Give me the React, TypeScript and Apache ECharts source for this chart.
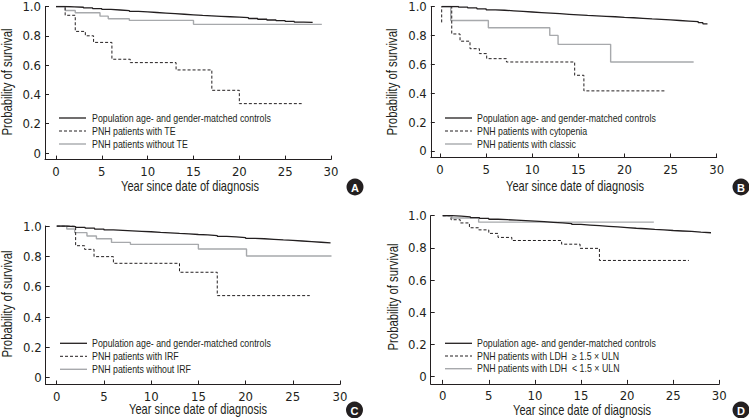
import React, { useEffect, useRef } from 'react';
import * as echarts from 'echarts';

type Pt = [number, number];

// ---------- data ----------
const xTicks = [0, 5, 10, 15, 20, 25, 30];
const yTicks = [0, 0.2, 0.4, 0.6, 0.8, 1.0];
const panelLetters = ['A', 'B', 'C', 'D'];
const xTitle = 'Year since date of diagnosis';
const yTitle = 'Probability of survival';
const controlLabel = 'Population age- and gender-matched controls';

const namesA = [controlLabel, 'PNH patients with TE', 'PNH patients without TE'];
const namesB = [controlLabel, 'PNH patients with cytopenia', 'PNH patients with classic'];
const namesC = [controlLabel, 'PNH patients with IRF', 'PNH patients without IRF'];
const namesD = [controlLabel, 'PNH patients with LDH  \u2265 1.5 \u00d7 ULN', 'PNH patients with LDH  < 1.5 \u00d7 ULN'];

const aControls: Pt[] = [
  [0, 1], [1, 0.998], [2, 0.995], [3, 0.99], [4, 0.985], [5, 0.98], [6, 0.976], [7, 0.972],
  [8, 0.967], [9, 0.963], [10, 0.959], [11, 0.955], [12, 0.951], [13, 0.947], [14, 0.943],
  [15, 0.939], [16, 0.936], [17, 0.933], [18, 0.93], [19, 0.927], [20, 0.924], [21, 0.918],
  [22, 0.913], [23, 0.908], [24, 0.903], [25, 0.898], [26, 0.893], [27, 0.891], [28, 0.889],
];
const aWithTE: Pt[] = [
  [0, 1], [1, 0.94], [2.1, 0.83], [3.2, 0.8], [4.1, 0.755], [6.1, 0.64], [8.1, 0.617],
  [13.1, 0.567], [17, 0.428], [20, 0.337], [26.8, 0.337],
];
const aWithoutTE: Pt[] = [
  [0, 1], [1, 0.973], [2.1, 0.957], [4.8, 0.934], [5.7, 0.916], [8, 0.905], [15, 0.878], [29, 0.878],
];

const bControls: Pt[] = [
  [0.2, 1], [1, 1], [2, 0.995], [3, 0.99], [4, 0.984], [5, 0.977], [6, 0.974], [7, 0.97],
  [8, 0.966], [9, 0.962], [10, 0.958], [11, 0.954], [12, 0.95], [13, 0.946], [14, 0.942],
  [15, 0.938], [16, 0.935], [17, 0.932], [18, 0.929], [19, 0.925], [20, 0.922], [21, 0.918],
  [22, 0.914], [23, 0.911], [24, 0.907], [25, 0.903], [26, 0.899], [27, 0.895], [28, 0.888],
  [28.5, 0.88], [29, 0.88],
];
const bCytopenia: Pt[] = [
  [0.18, 0.89], [0.18, 1], [1.27, 0.81], [2.17, 0.76], [3.25, 0.708], [4.27, 0.674],
  [5.06, 0.639], [7.2, 0.616], [14.6, 0.524], [15.6, 0.416], [24.5, 0.416],
];
const bClassic: Pt[] = [
  [0.2, 1], [1.16, 0.903], [5.24, 0.853], [11.9, 0.8], [12.8, 0.738], [18.5, 0.616], [27.5, 0.616],
];

const cControls: Pt[] = [
  [0, 1], [1, 0.996], [2, 0.991], [3, 0.986], [4, 0.98], [5, 0.974], [6, 0.971], [7, 0.968],
  [8, 0.965], [9, 0.962], [10, 0.958], [11, 0.955], [12, 0.951], [13, 0.948], [14, 0.944],
  [15, 0.941], [16, 0.937], [17, 0.932], [18, 0.928], [19, 0.924], [20, 0.919], [21, 0.916],
  [22, 0.912], [23, 0.908], [24, 0.905], [25, 0.901], [26, 0.897], [27, 0.893], [28, 0.889],
  [29, 0.886],
];
const cIRF: Pt[] = [
  [0, 1], [2, 0.87], [2.95, 0.846], [3.95, 0.798], [6, 0.754], [13, 0.695], [17, 0.541], [26.8, 0.541],
];
const cWithoutIRF: Pt[] = [
  [0, 1], [1.06, 0.98], [1.9, 0.956], [3.2, 0.934], [4.2, 0.916], [5.8, 0.892], [7.8, 0.879],
  [15, 0.848], [20.1, 0.802], [29.1, 0.802],
];

const dControls: Pt[] = [
  [0, 1], [1, 0.997], [2, 0.993], [3, 0.988], [4, 0.983], [5, 0.978], [6, 0.975], [7, 0.972],
  [8, 0.969], [9, 0.966], [10, 0.963], [11, 0.959], [12, 0.955], [13, 0.951], [14, 0.946],
  [15, 0.942], [16, 0.938], [17, 0.934], [18, 0.93], [19, 0.926], [20, 0.922], [21, 0.919],
  [22, 0.915], [23, 0.912], [24, 0.908], [25, 0.905], [26, 0.902], [27, 0.898], [28, 0.894],
  [29.1, 0.891],
];
const dHighLDH: Pt[] = [
  [0, 1], [0.9, 0.975], [1.9, 0.955], [2.9, 0.925], [3.9, 0.912], [5, 0.89], [6, 0.865],
  [7.5, 0.846], [12.9, 0.823], [14.9, 0.797], [17, 0.722], [26.7, 0.722],
];
const dLowLDH: Pt[] = [[0, 1], [1, 0.986], [3.9, 0.96], [22.9, 0.96]];

const panelSeries: Pt[][][] = [
  [aControls, aWithTE, aWithoutTE],
  [bControls, bCytopenia, bClassic],
  [cControls, cIRF, cWithoutIRF],
  [dControls, dHighLDH, dLowLDH],
];
const panelNames = [namesA, namesB, namesC, namesD];

// ---------- layout & style ----------
const TICK_FONT = '"DejaVu Sans Condensed", "Liberation Sans", sans-serif';
const TEXT_FONT = '"Liberation Sans", Arial, sans-serif';
const INK = '#231f20';
const GRAY = '#a7a9ac';
const Y_MIN = -0.045;

const layouts = [
  { left: 45, top: 6, width: 286, height: 153.6, xMin: -1.2,
    legend: { x: 59, y: 118, tx: 92, gap: 13 }, yT: [7.5, 82], xT: [190, 187], circ: [355, 187] },
  { left: 430.8, top: 6, width: 285.9, height: 151.5, xMin: -1.0,
    legend: { x: 445, y: 118, tx: 477, gap: 13 }, yT: [392.5, 82], xT: [575, 187], circ: [741, 187] },
  { left: 45.7, top: 226, width: 294.3, height: 158.5, xMin: -1.17,
    legend: { x: 60, y: 343.3, tx: 92, gap: 13 }, yT: [7.5, 304], xT: [198, 410], circ: [354.5, 410] },
  { left: 430.7, top: 215.7, width: 288.6, height: 168.2, xMin: -1.3,
    legend: { x: 445, y: 343.3, tx: 477, gap: 12.7 }, yT: [393, 297], xT: [582, 411], circ: [741, 410] },
];

const lineStyles = [
  { color: INK, width: 1.3, type: 'solid' as any },
  { color: INK, width: 1, type: [3, 2] as any },
  { color: GRAY, width: 1.4, type: 'solid' as any },
];

function buildOption() {
  const grid: any[] = [];
  const xAxis: any[] = [];
  const yAxis: any[] = [];
  const series: any[] = [];
  const graphic: any[] = [];

  layouts.forEach((L, i) => {
    grid.push({ left: L.left, top: L.top, width: L.width, height: L.height, containLabel: false });
    xAxis.push({
      type: 'value', gridIndex: i, min: L.xMin, max: 30,
      axisLine: { show: true, onZero: false, lineStyle: { color: INK, width: 1 } },
      axisTick: { show: true, inside: true, length: 4, customValues: xTicks, lineStyle: { color: INK } },
      axisLabel: { show: true, customValues: xTicks, color: INK, fontSize: 13, fontFamily: TICK_FONT, margin: 5 },
      splitLine: { show: false },
    });
    yAxis.push({
      type: 'value', gridIndex: i, min: Y_MIN, max: 1,
      axisLine: { show: true, onZero: false, lineStyle: { color: INK, width: 1 } },
      axisTick: { show: true, inside: true, length: 4, customValues: yTicks, lineStyle: { color: INK } },
      axisLabel: {
        show: true, customValues: yTicks, color: INK, fontSize: 13, fontFamily: TICK_FONT, margin: 4,
        formatter: (v: number) => (v === 0 ? '0' : v.toFixed(1)),
      },
      splitLine: { show: false },
    });
    const order = [2, 1, 0];
    order.forEach((k) => {
      series.push({
        type: 'line', name: panelNames[i][k], xAxisIndex: i, yAxisIndex: i,
        step: 'end', symbol: 'none', showSymbol: false, silent: true,
        lineStyle: lineStyles[k], data: panelSeries[i][k], z: 3 - k,
      });
    });

    // legend
    panelNames[i].forEach((nm, k) => {
      const y = L.legend.y + k * L.legend.gap;
      graphic.push({
        type: 'line', shape: { x1: L.legend.x, y1: y, x2: L.legend.x + 27, y2: y },
        style: { stroke: lineStyles[k].color, lineWidth: lineStyles[k].width, lineDash: k === 1 ? [3, 2] : null },
      });
      graphic.push({
        type: 'text', x: L.legend.tx, y, scaleX: 0.84,
        style: { text: nm, fill: INK, font: `10.5px ${TEXT_FONT}`, textAlign: 'left', textVerticalAlign: 'middle' },
      });
    });

    // axis titles
    graphic.push({
      type: 'text', x: L.yT[0], y: L.yT[1], rotation: Math.PI / 2, scaleX: 0.81,
      style: { text: yTitle, fill: INK, font: `14px ${TEXT_FONT}`, textAlign: 'center', textVerticalAlign: 'middle' },
    });
    graphic.push({
      type: 'text', x: L.xT[0], y: L.xT[1], scaleX: 0.79,
      style: { text: xTitle, fill: INK, font: `14px ${TEXT_FONT}`, textAlign: 'center', textVerticalAlign: 'middle' },
    });
    // panel letter
    graphic.push({ type: 'circle', shape: { cx: L.circ[0], cy: L.circ[1], r: 8.5 }, style: { fill: INK } });
    graphic.push({
      type: 'text', x: L.circ[0], y: L.circ[1] + 0.5,
      style: { text: panelLetters[i], fill: '#fff', font: `bold 11px ${TEXT_FONT}`, textAlign: 'center', textVerticalAlign: 'middle' },
    });
  });

  return { animation: false, backgroundColor: '#fff', grid, xAxis, yAxis, series, graphic };
}

export default function App() {
  const ref = useRef<HTMLDivElement>(null);
  useEffect(() => {
    if (!ref.current) return;
    const chart = echarts.init(ref.current, undefined, { renderer: 'svg' });
    chart.setOption(buildOption() as any);
    return () => chart.dispose();
  }, []);
  return (
    <div
      ref={ref}
      style={{ position: 'fixed', left: 0, top: 0, width: 749, height: 418, background: '#fff' }}
    />
  );
}
